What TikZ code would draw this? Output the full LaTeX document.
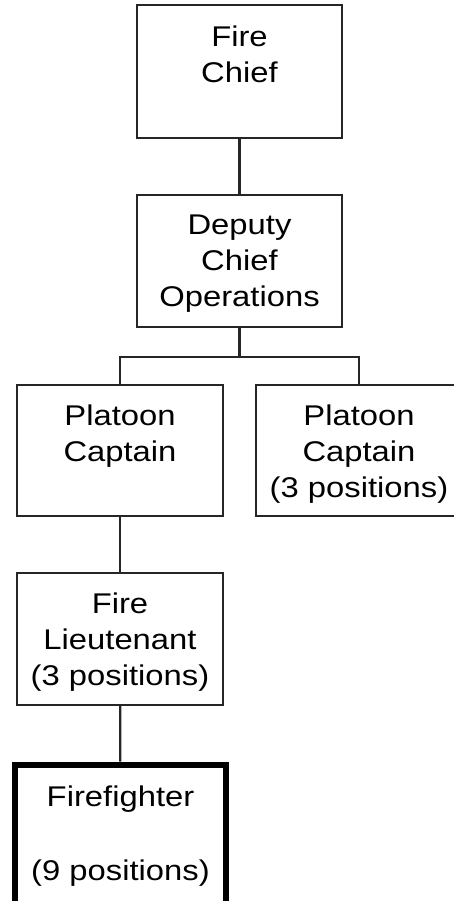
\documentclass[tikz,border=0pt]{standalone}
\usepackage{fontspec}
\setmainfont{Liberation Sans}[FakeStretch=1.15]
\newcommand{\posttext}[2][92pt]{\parbox[c][#1][t]{204pt}{\fontsize{28.5}{36}\selectfont\centering #2}}

\begin{document}
\begin{tikzpicture}[x=1pt, y=-1pt,
        post/.style={draw=black!85, line width=1.8pt, rectangle, inner sep=0pt, minimum width=206pt, minimum height=132pt},
        link/.style={draw=black!85, line width=2.2pt}]
        \useasboundingbox (0,0) rectangle (453,901);
        % chain of command
        \node[post, minimum width=205pt, minimum height=133pt] (chief) at (239.5,71.5) {\posttext{Fire\\Chief}};
        \node[post, minimum width=205pt] (deputy) at (239.5,261) {\posttext{Deputy\\Chief\\Operations}};
        \node[post, minimum height=131pt] (captainA) at (120,450.5) {\posttext{Platoon\\Captain}};
        \node[post, minimum height=131pt] (captainB) at (359,450.5) {\posttext{Platoon\\Captain\\(3 positions)}};
        \node[post] (lieutenant) at (120,639) {\posttext{Fire\\Lieutenant\\(3 positions)}};
        \node[post, line width=6pt, draw=black, minimum width=211pt, minimum height=139pt] (firefighter) at (120.5,834) {\posttext[97pt]{Firefighter\\[38pt](9 positions)}};

        \draw[link] (chief) -- (deputy);
        \draw[link] (deputy.south) -- ++(0,29) coordinate (split);
        \draw[link] (captainA.north) |- (split) -| (captainB.north);
        \draw[link] (captainA) -- (lieutenant);
        \draw[link] (lieutenant) -- (firefighter);
    \end{tikzpicture}
\end{document}
